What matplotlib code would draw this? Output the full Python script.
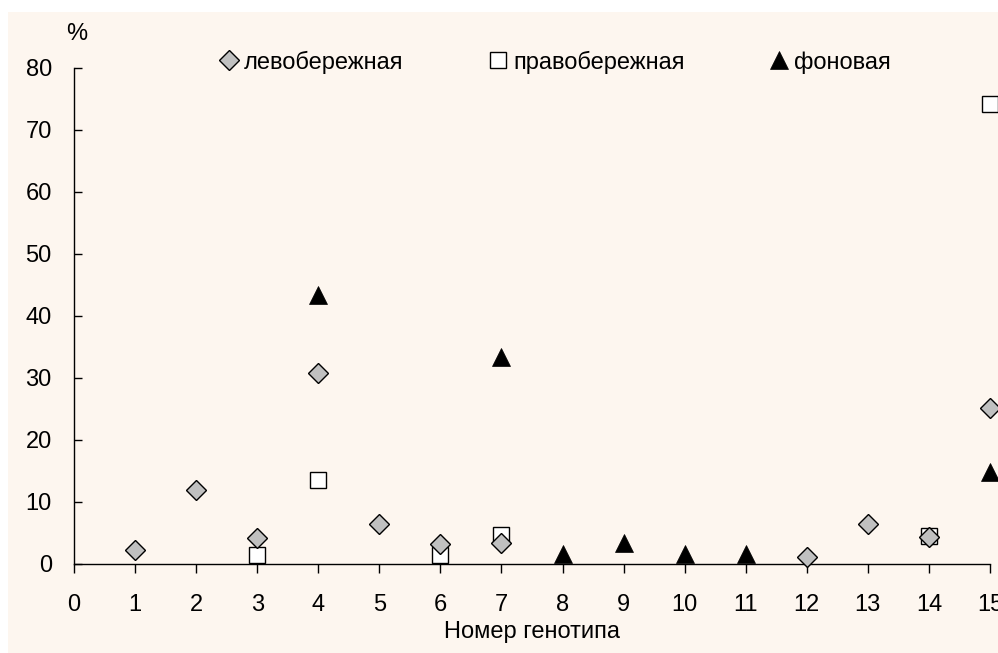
import numpy as np
import matplotlib
matplotlib.use("Agg")
import matplotlib.pyplot as plt
from matplotlib.patches import Rectangle

plt.rcParams['font.family'] = ['Liberation Sans', 'DejaVu Sans']
plt.rcParams['font.size'] = 17

# genotype frequencies, % (only genotypes present in each sample)
levo_x = [1, 2, 3, 4, 5, 6, 7, 12, 13, 14, 15]
levo_y = [2.3, 12.0, 4.2, 30.8, 6.5, 3.3, 3.4, 1.1, 6.5, 4.3, 25.1]

pravo_x = [3, 4, 6, 7, 14, 15]
pravo_y = [1.5, 13.6, 1.5, 4.6, 4.5, 74.2]

fon_x = [4, 7, 8, 9, 10, 11, 15]
fon_y = [43.4, 33.4, 1.6, 3.4, 1.6, 1.6, 14.8]

labels = ['левобережная', 'правобережная', 'фоновая']
xticks = np.arange(0, 16)
yticks = np.arange(0, 90, 10)

W, H = 998, 653
fig = plt.figure(figsize=(W / 100, H / 100), dpi=100)
fig.patch.set_facecolor('white')
fig.patches.append(Rectangle((8 / W, 0), 1 - 8 / W, 1 - 12 / H,
                             transform=fig.transFigure, facecolor='#fdf6ef',
                             edgecolor='none', zorder=-10))

ax = fig.add_axes([74 / W, 1 - 564 / H, 916 / W, 496 / H])
ax.patch.set_visible(False)

p2, = ax.plot(pravo_x, pravo_y, ls='none', marker='s', ms=12, mfc='white',
              mec='black', mew=1.0, clip_on=False, zorder=3)
p1, = ax.plot(levo_x, levo_y, ls='none', marker='D', ms=10.2, mfc='#c0c0c0',
              mec='black', mew=1.0, clip_on=False, zorder=4)
p3, = ax.plot(fon_x, fon_y, ls='none', marker='^', ms=12.5, mfc='black',
              mec='black', mew=0.5, clip_on=False, zorder=5)

ax.set_xlim(0, 15)
ax.set_ylim(0, 80)
ax.set_xticks(xticks)
ax.set_yticks(yticks)
ax.spines['top'].set_visible(False)
ax.spines['right'].set_visible(False)
for s in ('left', 'bottom'):
    ax.spines[s].set_linewidth(1.0)
ax.tick_params(axis='x', direction='out', length=6.5, width=1.0, pad=15)
ax.tick_params(axis='y', direction='in', length=5.8, width=1.0, pad=16)

ax.set_xlabel('Номер генотипа', labelpad=4)
fig.text(77 / W, 1 - 34 / H, '%', ha='center', va='center')

ax.legend([p1, p2, p3], labels, ncol=3, frameon=False, loc='center',
          bbox_to_anchor=(554 / W, 1 - 62 / H), bbox_transform=fig.transFigure,
          handlelength=1.0, handletextpad=0.14, columnspacing=3.5,
          borderpad=0, borderaxespad=0)

fig.savefig('out.png', dpi=100)
